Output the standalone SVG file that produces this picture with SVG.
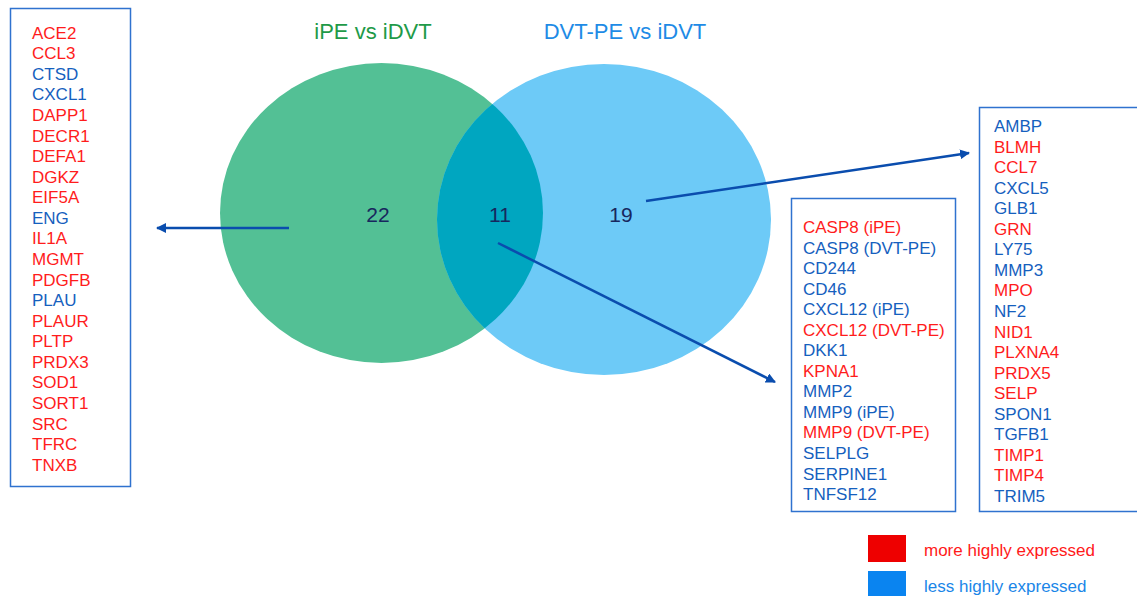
<svg xmlns="http://www.w3.org/2000/svg" width="1137" height="596" viewBox="0 0 1137 596">
<style>
text{font-family:"Liberation Sans",Arial,sans-serif}
.g{font-size:17px}
.r{fill:#FF1C1C}
.b{fill:#1560BE}
.box{fill:#fff;stroke:#2F72CF;stroke-width:1.5}
.num{font-size:21px;fill:#17275E;text-anchor:middle}
.conn{stroke:#0A4DAE;stroke-width:2.5;fill:none}
</style>
<defs>
<marker id="ah" viewBox="0 0 10 10" refX="9" refY="5" markerWidth="4" markerHeight="4" orient="auto" markerUnits="strokeWidth">
<path d="M0,0 L10,5 L0,10 z" fill="#0A4DAE"/>
</marker>
<clipPath id="gc"><ellipse cx="381.5" cy="213" rx="161.5" ry="150"/></clipPath>
</defs>
<rect width="1137" height="596" fill="#fff"/>
<g id="titles">
<text x="373" y="39" font-size="22" fill="#1E9A48" text-anchor="middle">iPE vs iDVT</text>
<text x="625" y="39" font-size="22" fill="#1E8BE6" text-anchor="middle">DVT-PE vs iDVT</text>
</g>
<g id="venn">
<ellipse id="set-ipe" cx="381.5" cy="213" rx="161.5" ry="150" fill="#53C095"/>
<ellipse id="set-dvtpe" cx="604" cy="219.5" rx="167" ry="155.5" fill="#6DCAF7"/>
<ellipse id="overlap" cx="604" cy="219.5" rx="167" ry="155.5" fill="#00A6C0" clip-path="url(#gc)"/>
<text class="num" x="378" y="222">22</text>
<text class="num" x="500" y="222">11</text>
<text class="num" x="621" y="222">19</text>
</g>
<g id="connectors">
<line class="conn" x1="289" y1="228" x2="157" y2="228" marker-end="url(#ah)"/>
<line class="conn" x1="646" y1="201" x2="969" y2="153" marker-end="url(#ah)"/>
<line class="conn" x1="498" y1="243" x2="775" y2="382" marker-end="url(#ah)"/>
</g>
<g id="box-ipe" class="g">
<rect class="box" x="10.5" y="8.5" width="120" height="478"/>
<text class="r" x="32" y="38.7">ACE2</text>
<text class="r" x="32" y="59.3">CCL3</text>
<text class="b" x="32" y="79.8">CTSD</text>
<text class="b" x="32" y="100.4">CXCL1</text>
<text class="r" x="32" y="121">DAPP1</text>
<text class="r" x="32" y="141.6">DECR1</text>
<text class="r" x="32" y="162.1">DEFA1</text>
<text class="r" x="32" y="182.7">DGKZ</text>
<text class="r" x="32" y="203.3">EIF5A</text>
<text class="b" x="32" y="223.8">ENG</text>
<text class="r" x="32" y="244.4">IL1A</text>
<text class="r" x="32" y="265">MGMT</text>
<text class="r" x="32" y="285.6">PDGFB</text>
<text class="b" x="32" y="306.1">PLAU</text>
<text class="r" x="32" y="326.7">PLAUR</text>
<text class="r" x="32" y="347.3">PLTP</text>
<text class="r" x="32" y="367.8">PRDX3</text>
<text class="r" x="32" y="388.4">SOD1</text>
<text class="r" x="32" y="409">SORT1</text>
<text class="r" x="32" y="429.6">SRC</text>
<text class="r" x="32" y="450.1">TFRC</text>
<text class="r" x="32" y="470.7">TNXB</text>
</g>
<g id="box-common" class="g">
<rect class="box" x="791.5" y="198.5" width="164" height="313"/>
<text class="r" x="803" y="233">CASP8 (iPE)</text>
<text class="b" x="803" y="253.5">CASP8 (DVT-PE)</text>
<text class="b" x="803" y="274">CD244</text>
<text class="b" x="803" y="294.6">CD46</text>
<text class="b" x="803" y="315.2">CXCL12 (iPE)</text>
<text class="r" x="803" y="335.7">CXCL12 (DVT-PE)</text>
<text class="b" x="803" y="356.2">DKK1</text>
<text class="r" x="803" y="376.8">KPNA1</text>
<text class="b" x="803" y="397.3">MMP2</text>
<text class="b" x="803" y="417.9">MMP9 (iPE)</text>
<text class="r" x="803" y="438.4">MMP9 (DVT-PE)</text>
<text class="b" x="803" y="459">SELPLG</text>
<text class="b" x="803" y="479.5">SERPINE1</text>
<text class="b" x="803" y="500">TNFSF12</text>
</g>
<g id="box-dvtpe" class="g">
<rect class="box" x="979.5" y="107.5" width="170" height="404"/>
<text class="b" x="994" y="132">AMBP</text>
<text class="r" x="994" y="152.6">BLMH</text>
<text class="r" x="994" y="173.1">CCL7</text>
<text class="b" x="994" y="193.7">CXCL5</text>
<text class="b" x="994" y="214.2">GLB1</text>
<text class="r" x="994" y="234.8">GRN</text>
<text class="b" x="994" y="255.3">LY75</text>
<text class="b" x="994" y="275.9">MMP3</text>
<text class="r" x="994" y="296.4">MPO</text>
<text class="b" x="994" y="317">NF2</text>
<text class="r" x="994" y="337.6">NID1</text>
<text class="r" x="994" y="358.1">PLXNA4</text>
<text class="r" x="994" y="378.7">PRDX5</text>
<text class="r" x="994" y="399.2">SELP</text>
<text class="b" x="994" y="419.8">SPON1</text>
<text class="b" x="994" y="440.3">TGFB1</text>
<text class="r" x="994" y="460.9">TIMP1</text>
<text class="r" x="994" y="481.4">TIMP4</text>
<text class="b" x="994" y="502">TRIM5</text>
</g>
<g id="legend" class="g">
<rect x="868" y="535" width="38" height="27" fill="#EE0000"/>
<rect x="868" y="571" width="38" height="27" fill="#0A84F0"/>
<text x="924" y="556" fill="#FF1A1A">more highly expressed</text>
<text x="924" y="592" fill="#1A86E8">less highly expressed</text>
</g>
</svg>
